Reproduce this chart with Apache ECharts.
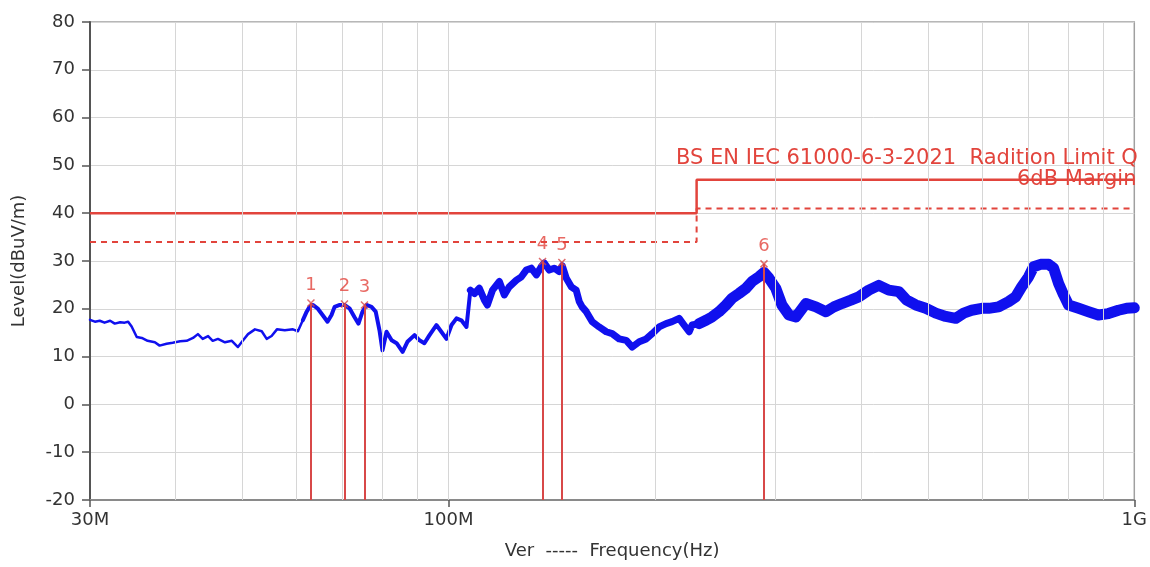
<!DOCTYPE html>
<html><head><meta charset="utf-8">
<script src="https://cdn.jsdelivr.net/npm/echarts@6/dist/echarts.min.js"></script>
<style>html,body{margin:0;padding:0;background:#fff}#c{width:1150px;height:567px}</style>
</head><body><div id="c"></div>
<script>
// ---------- data ----------
const yMin = -20, yMax = 80, yStep = 10;
const xMinMHz = 30, xMaxMHz = 1000;
const gridFreqMHz = [40,50,60,70,80,90,100,200,300,400,500,600,700,800,900];
const limitFreqMHz = [30,230,230,1000];
const limitQP = [40,40,47,47];
const marginLevel = [34,34,41,41];
const markerNames = ['1','2','3','4','5','6'];
const markerFreqMHz = [63.0,70.5,75.4,137.1,146.3,288.4];
const markerLevel = [21.2,21.0,20.8,29.9,29.7,29.4];
// trace [MHz, dBuV/m]
const traceA = [[30.0,17.7],[30.5,17.3],[31.0,17.5],[31.5,17.1],[32.1,17.5],[32.6,16.9],[33.2,17.2],[33.7,17.1],[34.1,17.3],[34.5,16.3],[35.1,14.1],[35.7,13.9],[36.4,13.3],[37.3,13.0],[37.9,12.3],[38.8,12.7],[39.6,12.9],[40.6,13.2],[41.5,13.3],[42.4,13.9],[43.1,14.7],[43.8,13.7],[44.6,14.3],[45.3,13.3],[46.1,13.7],[47.2,13.0],[48.3,13.3],[49.3,12.0],[50.1,13.3],[51.0,14.7],[52.2,15.7],[53.4,15.3],[54.3,13.7],[55.2,14.3],[56.2,15.7],[57.7,15.5],[59.3,15.7],[60.3,15.3],[61.3,17.6]];
const traceB = [[61.3,17.6],[62.1,19.4],[62.7,20.4],[63.4,20.8],[64.4,20.1],[65.5,18.7],[66.6,17.3],[67.5,18.7],[68.2,20.4],[69.4,20.8],[70.5,20.8],[71.7,20.1],[72.9,18.3],[73.9,16.9],[74.9,19.4],[75.9,20.8],[77.2,20.4],[78.3,19.4],[79.3,15.5],[80.1,11.3],[81.2,15.2],[82.6,13.4],[84.0,12.8],[85.7,11.0],[87.1,13.1],[89.2,14.5],[90.7,13.4],[92.2,12.8],[93.8,14.5],[96.0,16.6],[97.6,15.2],[99.3,13.7],[101.0,16.6],[102.7,18.0],[104.4,17.6],[106.2,16.2],[107.6,23.9]];
const traceC = [[107.6,23.9],[109.1,23.2],[110.9,24.3],[112.8,21.8],[113.9,20.8],[115.9,23.9],[118.6,25.7],[120.6,22.9],[122.6,24.6],[125.6,26.0],[127.7,26.7],[129.8,28.1],[132.0,28.5],[134.3,27.1],[136.5,28.8],[137.9,29.6],[140.2,28.1],[142.6,28.5],[145.0,27.8],[146.5,29.0],[148.5,26.4],[151.0,24.6],[153.5,23.9],[155.1,21.5],[156.6,20.4],[158.8,19.4],[162.0,17.3],[165.8,16.2],[169.8,15.2],[173.2,14.8],[177.3,13.7],[181.6,13.4],[185.3,12.0],[189.7,13.1],[194.2,13.7],[198.1,14.8],[202.8,16.2],[207.6,16.9],[211.8,17.3],[216.9,18.0],[220.5,16.6],[224.3,15.2],[226.5,16.6],[231.9,16.9]];
const traceD = [[231.9,16.9],[237.4,17.6],[242.2,18.3],[248.0,19.4],[253.9,20.8],[259.1,22.2],[265.2,23.2],[271.5,24.3],[277.0,25.7],[283.6,26.7],[288.4,27.6],[293.3,26.4],[300.0,24.3],[306.3,20.8],[313.6,18.7],[321.0,18.3],[332.0,21.1],[343.3,20.4],[355.0,19.4],[364.7,20.4],[374.6,21.1],[386.0,21.8],[396.5,22.5],[410.0,23.9],[424.0,24.9],[438.5,23.9],[453.4,23.6],[465.8,21.8],[480.1,20.8],[496.4,20.1],[513.4,19.1],[530.9,18.4],[549.0,18.0],[563.9,19.1],[579.2,19.7],[599.0,20.1],[613.3,20.1],[634.0,20.4],[655.7,21.5],[671.3,22.5],[685.0,24.6],[701.2,26.7],[713.1,28.8],[730.0,29.3],[750.0,29.3],[762.7,28.5],[775.6,25.3],[788.8,22.9],[802.0,20.8],[829.3,20.1],[857.5,19.4],[886.6,18.7],[916.8,19.0],[948.0,19.7],[973.9,20.1],[1000,20.2]];
const limitTitle = 'BS EN IEC 61000-6-3-2021  Radition Limit QP';
const marginTitle = '6dB Margin';

// ---------- chart ----------
const M = 1e6;
const toHz = arr => arr.map(p => [p[0] * M, p[1]]);
const FONT = 'DejaVu Sans';
const RED = '#e2443c';
const BLUE = '#1010ee';

function traceSeries(data, w) {
  return { type: 'line', data: toHz(data), showSymbol: false, symbol: 'none', z: 3, clip: true,
    lineStyle: { color: BLUE, width: w, join: 'round', cap: 'round' }, silent: true, animation: false };
}

const chart = echarts.init(document.getElementById('c'), null, { renderer: 'canvas' });
chart.setOption({
  backgroundColor: '#fff',
  animation: false,
  grid: { left: 90, right: 14, top: 22, bottom: 67, show: true, borderColor: '#a0a0a0', borderWidth: 1.5, containLabel: false },
  xAxis: {
    type: 'log', logBase: 10, min: xMinMHz * M, max: xMaxMHz * M,
    name: 'Ver  -----  Frequency(Hz)', nameLocation: 'middle', nameGap: 42,
    nameTextStyle: { fontFamily: FONT, fontSize: 18, color: '#333' },
    axisLine: { show: true, onZero: false, lineStyle: { color: '#8a8a8a', width: 2 } },
    axisTick: { show: true, length: 7, lineStyle: { color: '#555', width: 1.5 } },
    axisLabel: { fontFamily: FONT, fontSize: 18, color: '#333', margin: 11,
      formatter: v => { const m = Math.round(v / M); return m >= 1000 ? (m / 1000) + 'G' : m + 'M'; } },
    splitLine: { show: false }, minorTick: { show: false }, minorSplitLine: { show: false }
  },
  yAxis: {
    type: 'value', min: yMin, max: yMax, interval: yStep,
    name: 'Level(dBuV/m)', nameLocation: 'middle', nameGap: 62,
    nameTextStyle: { fontFamily: FONT, fontSize: 18, color: '#333' },
    axisLine: { show: true, lineStyle: { color: '#555', width: 2 } },
    axisTick: { show: true, length: 8, inside: false, lineStyle: { color: '#555', width: 1.5 } },
    axisLabel: { fontFamily: FONT, fontSize: 18, color: '#333', margin: 15 },
    splitLine: { show: true, lineStyle: { color: '#d6d6d6', width: 1 } }
  },
  graphic: [
    { type: 'text', left: 676, top: 148, z: 50, style: { text: limitTitle, fill: RED, fontFamily: FONT, fontSize: 21 } },
    { type: 'text', left: 1017, top: 169, z: 50, style: { text: marginTitle, fill: RED, fontFamily: FONT, fontSize: 21 } },
    { type: 'rect', left: 1137, top: 135, z: 100, shape: { width: 13, height: 60 }, style: { fill: '#fff' } }
  ],
  series: [
    { type: 'line', data: [], z: 1, silent: true,
      markLine: { silent: true, symbol: ['none', 'none'], label: { show: false }, animation: false,
        lineStyle: { color: '#d6d6d6', width: 1, type: 'solid' },
        data: gridFreqMHz.map(f => ({ xAxis: f * M })) } },
    traceSeries(traceA, 2.5),
    traceSeries(traceB, 4),
    traceSeries(traceC, 7),
    traceSeries(traceD, 11),
    { type: 'line', data: limitFreqMHz.map((f, i) => [f * M, limitQP[i]]), showSymbol: false, symbol: 'none', z: 4,
      lineStyle: { color: RED, width: 2.5 }, silent: true },
    { type: 'line', data: limitFreqMHz.map((f, i) => [f * M, marginLevel[i]]), showSymbol: false, symbol: 'none', z: 4,
      lineStyle: { color: RED, width: 2, type: [6, 5] }, silent: true },
    { type: 'line', data: [], z: 4, silent: true,
      markLine: { silent: true, symbol: ['none', 'none'], label: { show: false }, animation: false,
        lineStyle: { color: '#d84848', width: 2, type: 'solid' },
        data: markerFreqMHz.map((f, i) => [{ coord: [f * M, yMin] }, { coord: [f * M, markerLevel[i]] }]) } },
    { type: 'scatter', z: 5, silent: true,
      data: markerFreqMHz.map((f, i) => ({ value: [f * M, markerLevel[i]], name: markerNames[i] })),
      symbol: 'path://M0,0L10,10M10,0L0,10', symbolSize: 7,
      itemStyle: { color: 'rgba(0,0,0,0)', borderColor: '#d84848', borderWidth: 1.5 },
      label: { show: true, position: 'top', distance: 4, formatter: p => p.name, color: RED, fontFamily: FONT, fontSize: 18 } }
  ]
});
</script>
</body></html>
